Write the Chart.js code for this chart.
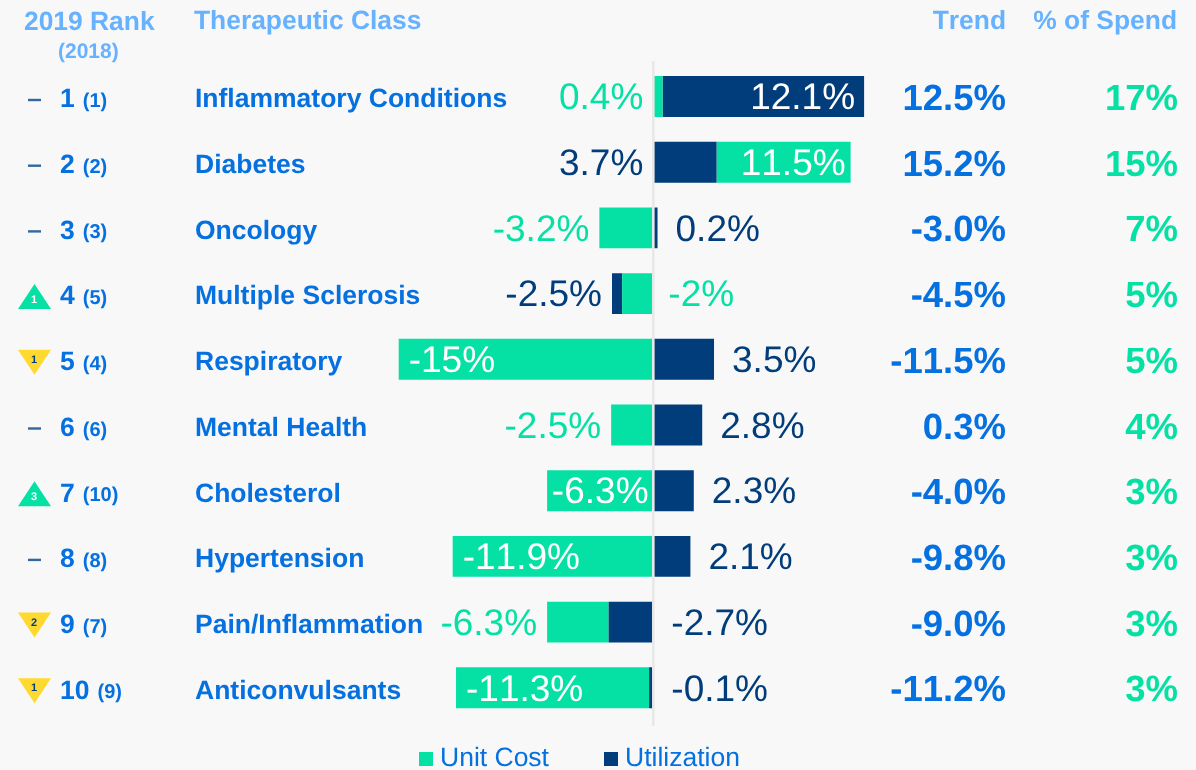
<!DOCTYPE html>
<html>
<head>
<meta charset="utf-8">
<title>Therapeutic Class</title>
<style>
html, body { margin: 0; padding: 0; background: #f8f8f8; overflow: hidden; }
canvas { display: block; }
</style>
<script src="https://cdn.jsdelivr.net/npm/chart.js@4/dist/chart.umd.min.js"></script>
</head>
<body>
<canvas id="rankChart" width="1196" height="770"></canvas>
<script>
//data
var classes = ['Inflammatory Conditions', 'Diabetes', 'Oncology', 'Multiple Sclerosis', 'Respiratory',
    'Mental Health', 'Cholesterol', 'Hypertension', 'Pain/Inflammation', 'Anticonvulsants'];
var ranks2019 = [1, 2, 3, 4, 5, 6, 7, 8, 9, 10];
var ranks2018 = [1, 2, 3, 5, 4, 6, 10, 8, 7, 9];
var trend = ['12.5%', '15.2%', '-3.0%', '-4.5%', '-11.5%', '0.3%', '-4.0%', '-9.8%', '-9.0%', '-11.2%'];
var spend = ['17%', '15%', '7%', '5%', '5%', '4%', '3%', '3%', '3%', '3%'];

//bar lengths as drawn, these do not always agree with the printed labels.
//unit cost sits on the outside of the stack in three rows so it needs its own series
var unitCost = [0.55, null, -3.2, -1.85, -15.1, -2.5, -6.3, -11.9, null, null];
var utilization = [11.95, 3.75, 0.25, -0.6, 3.6, 2.9, 2.4, 2.2, -2.65, -0.25];
var unitCostOuter = [null, 7.95, null, null, null, null, null, null, -3.65, -11.45];

var leftLabels = ['0.4%', '3.7%', '-3.2%', '-2.5%', '-15%', '-2.5%', '-6.3%', '-11.9%', '-6.3%', '-11.3%'];
var rightLabels = ['12.1%', '11.5%', '0.2%', '-2%', '3.5%', '2.8%', '2.3%', '2.1%', '-2.7%', '-0.1%'];
var leftLabelKinds = ['unit', 'util', 'unit', 'util', 'inside', 'unit', 'inside', 'inside', 'unit', 'inside'];
var rightLabelKinds = ['inside', 'inside', 'util', 'unit', 'util', 'util', 'util', 'util', 'util', 'util'];

var green = '#05e1a4';
var navy = '#023d7b';
var blue = '#0570e0';
var paleBlue = '#66b2ff';
var yellow = '#ffd92f';
var font = '"Liberation Sans", Arial, sans-serif';

function drawText(ctx, text, x, y, size, bold, color, align) {
    ctx.font = (bold ? 'bold ' : '') + size + 'px ' + font;
    ctx.fillStyle = color;
    ctx.textAlign = align || 'left';
    ctx.textBaseline = 'middle';
    ctx.fillText(text, x, y + 2);
}

//the row furniture around the bars: headers, ranks, labels, legend
var tablePlugin = {
    id: 'tablePlugin',
    beforeDraw: function (chart) {
        //the reference has no kerning between digits
        chart.ctx.fontKerning = 'none';
        chart.ctx.textRendering = 'geometricPrecision';
    },
    afterDatasetsDraw: function (chart) {
        var ctx = chart.ctx;
        var xs = chart.scales.x;
        var ys = chart.scales.y;
        var zero = xs.getPixelForValue(0);
        var labelColors = { unit: green, util: navy, inside: '#ffffff' };
        //small hand corrections for labels that sit off the general rule
        var rightNudge = { 0: -2, 1: 2, 3: -3 };
        ctx.save();

        //zero line, covers the seam between left and right bars
        ctx.fillStyle = '#e8e8e8';
        ctx.fillRect(zero - 1.3, 61, 2.6, 665);

        //headers
        drawText(ctx, '2019 Rank', 24, 21, 26.4, true, paleBlue);
        drawText(ctx, '(2018)', 58, 50, 21, true, paleBlue);
        drawText(ctx, 'Therapeutic Class', 194, 20, 26.4, true, paleBlue);
        drawText(ctx, 'Trend', 1006, 20, 26.4, true, paleBlue, 'right');
        drawText(ctx, '% of Spend', 1177, 20, 26.4, true, paleBlue, 'right');

        classes.forEach(function (name, i) {
            var y = ys.getPixelForValue(i);
            var move = ranks2018[i] - ranks2019[i];

            //rank change marker
            if (move === 0) {
                ctx.fillStyle = '#34679c';
                ctx.fillRect(28, y + 2.3, 13, 2.4);
            } else {
                var up = move > 0;
                var tip = up ? y - 9.5 : y + 15.5;
                var base = up ? y + 15.5 : y - 9.5;
                ctx.fillStyle = up ? green : yellow;
                ctx.beginPath();
                ctx.moveTo(34.5, tip);
                ctx.lineTo(18, base);
                ctx.lineTo(51, base);
                ctx.closePath();
                ctx.fill();
                drawText(ctx, String(Math.abs(move)), 34, up ? y + 4 : y - 1.5, 11, true, up ? '#ffffff' : navy, 'center');
            }

            //ranks
            var rank = String(ranks2019[i]);
            drawText(ctx, rank, 60, y + 1.5, 26.5, true, blue);
            var rankWidth = ctx.measureText(rank).width;
            drawText(ctx, '(' + ranks2018[i] + ')', 60 + rankWidth + 8, y + 3, 20, true, blue);

            //value labels, outside labels sit off the end of the stack
            var leftEnd = xs.getPixelForValue(Math.min(0, unitCost[i] || 0) + Math.min(0, utilization[i]) + Math.min(0, unitCostOuter[i] || 0));
            var rightEnd = xs.getPixelForValue(Math.max(0, unitCost[i] || 0) + Math.max(0, utilization[i]) + Math.max(0, unitCostOuter[i] || 0));
            ctx.font = '37px ' + font;
            var leftWidth = ctx.measureText(leftLabels[i]).width;
            if (leftLabelKinds[i] === 'inside') {
                var inset = Math.min(10, (zero - leftEnd - leftWidth) / 2);
                drawText(ctx, leftLabels[i], leftEnd + inset, y + 0.5, 37, false, labelColors.inside);
            } else {
                drawText(ctx, leftLabels[i], leftEnd - 10, y + 0.5, 37, false, labelColors[leftLabelKinds[i]], 'right');
            }
            var nudge = rightNudge[i] || 0;
            if (rightLabelKinds[i] === 'inside') {
                drawText(ctx, rightLabels[i], rightEnd - 7 + nudge, y + 0.5, 37, false, labelColors.inside, 'right');
            } else {
                drawText(ctx, rightLabels[i], rightEnd + 18 + nudge, y + 0.5, 37, false, labelColors[rightLabelKinds[i]]);
            }

            //table columns
            drawText(ctx, trend[i], 1006, y + 1.5, 36.5, true, blue, 'right');
            drawText(ctx, spend[i], 1178, y + 1.5, 36.5, true, green, 'right');
        });

        //legend, built from the two named series
        var legendItems = [chart.data.datasets[0], chart.data.datasets[1]];
        var legendX = [419, 604];
        legendItems.forEach(function (ds, i) {
            ctx.fillStyle = ds.backgroundColor;
            ctx.fillRect(legendX[i], 752, 14, 14);
            drawText(ctx, ds.label, legendX[i] + 21, 756.5, 26.5, false, blue);
        });
        ctx.restore();
    }
};

var rankChart = new Chart(document.getElementById('rankChart').getContext('2d'), {
    type: 'bar',
    data: {
        labels: classes,
        datasets: [
            { label: 'Unit Cost', data: unitCost, backgroundColor: green },
            { label: 'Utilization', data: utilization, backgroundColor: navy },
            { label: 'Unit Cost (outer)', data: unitCostOuter, backgroundColor: green }
        ]
    },
    options: {
        indexAxis: 'y',
        responsive: false,
        animation: false,
        events: [],
        datasets: { bar: { barPercentage: 0.623, categoryPercentage: 1, borderSkipped: false } },
        layout: { padding: { left: 195, top: 63.65, right: 326, bottom: 49.35 } },
        plugins: { legend: { display: false }, tooltip: { enabled: false } },
        scales: {
            x: { stacked: true, display: false, min: -27.18, max: 12.85 },
            y: {
                stacked: true,
                grid: { display: false, drawTicks: false },
                border: { display: false },
                ticks: {
                    autoSkip: false,
                    mirror: true,
                    padding: 0,
                    labelOffset: 3.5,
                    color: blue,
                    font: { family: font, size: 26.5, weight: 'bold' }
                }
            }
        }
    },
    plugins: [tablePlugin]
});
</script>
</body>
</html>
